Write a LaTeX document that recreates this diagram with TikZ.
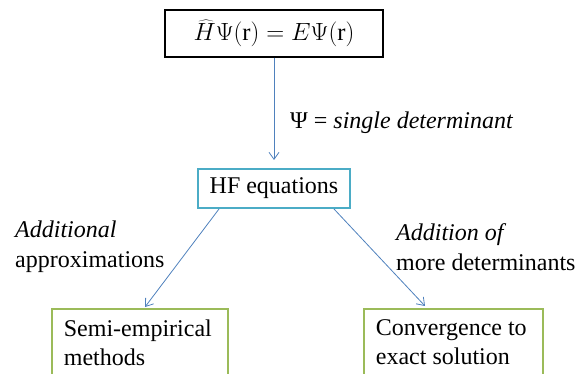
\documentclass[tikz,border=0pt]{standalone}
\usepackage{fontspec}
\setmainfont{Liberation Serif}
\usetikzlibrary{arrows.meta}
\definecolor{hfcyan}{RGB}{75,172,198}
\definecolor{leafgreen}{RGB}{155,187,89}
\definecolor{arrblue}{RGB}{79,129,189}
\tikzset{
  topbox/.style={draw=black, line width=1.3pt, minimum width=218pt, minimum height=47pt, inner sep=0pt, font=\fontsize{24.5}{29}\selectfont},
  hfbox/.style={draw=hfcyan, line width=2pt, minimum width=152pt, minimum height=39pt, inner sep=0pt, font=\fontsize{24}{29}\selectfont},
  leafbox/.style={draw=leafgreen, line width=1.8pt, anchor=north west, inner xsep=12pt, inner ysep=11pt, font=\fontsize{24}{29}\selectfont},
  lbl/.style={inner sep=0pt, align=left, font=\fontsize{24}{30}\selectfont},
  conn/.style={draw=arrblue, line width=0.8pt, -{Straight Barb[length=7pt,width=10pt]}}
}
\begin{document}
\begin{tikzpicture}[x=1pt,y=-1pt]
\useasboundingbox (0,0) rectangle (581,374);
\clip (0,0) rectangle (581,374);
\node[topbox] (top) at (274,33.5) {$\widehat{H}\Psi(\mathrm{r}) = E\Psi(\mathrm{r})$};
\node[hfbox] (hf) at (274,188.5) {HF equations};
\node[leafbox] (semi) at (51,308) {\parbox[t][70pt][t]{152pt}{Semi-empirical\\methods}};
\node[leafbox] (conv) at (363,308) {\parbox[t][70pt][t]{155pt}{Convergence to\\exact solution}};
\node[lbl, anchor=west] (psi) at (290,123) {Ψ = \textit{single determinant}};
\node[lbl, anchor=west] (addl) at (15,247) {\textit{Additional}\\approximations};
\node[lbl, anchor=west] (addm) at (396,247) {\textit{Addition of}\\more determinants};
\draw[conn, shorten >=8pt] (top.south) -- (hf.north);
\draw[conn] ([xshift=22pt]hf.south west) -- ([xshift=94pt,yshift=1pt]semi.north west);
\draw[conn] ([xshift=-17pt]hf.south east) -- ([xshift=62pt,yshift=2pt]conv.north west);
\end{tikzpicture}
\end{document}
